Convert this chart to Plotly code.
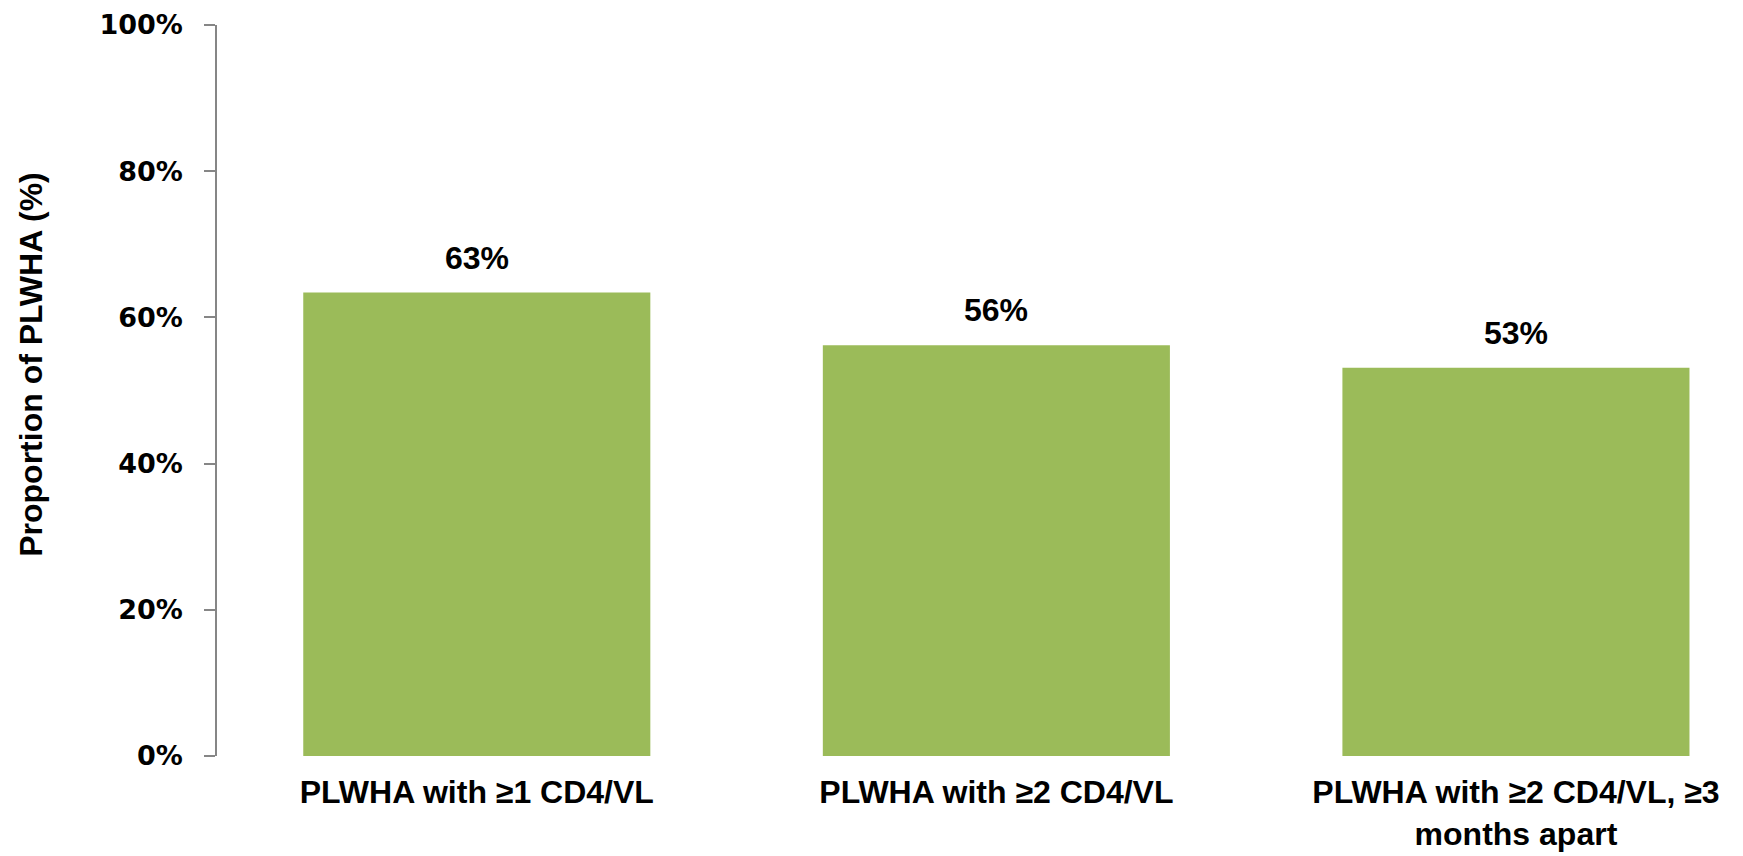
import plotly.graph_objects as go

categories = ["PLWHA with ≥1 CD4/VL", "PLWHA with ≥2 CD4/VL", "PLWHA with ≥2 CD4/VL, ≥3<br>months apart"]
values = [63.4, 56.2, 53.1]
value_labels = ["63%", "56%", "53%"]
y_ticks = [0, 20, 40, 60, 80, 100]
y_tick_labels = ["0%", "20%", "40%", "60%", "80%", "100%"]
y_title = "Proportion of PLWHA (%)"

GREEN = "#9BBB59"
AXIS_GRAY = "#868686"
TEXT_FONT = "Liberation Sans, Arial, sans-serif"
TICK_FONT = "DejaVu Sans, Verdana, sans-serif"

fig = go.Figure()
fig.add_trace(go.Bar(
    x=categories,
    y=values,
    marker=dict(color=GREEN, line=dict(width=0)),
    width=0.668,
    hoverinfo="skip",
))

for c, v, lab in zip(categories, values, value_labels):
    fig.add_annotation(
        x=c, y=v, text=f"<b>{lab}</b>", showarrow=False,
        yanchor="bottom", yshift=15,
        font=dict(family=TEXT_FONT, size=32, color="#000000"),
    )

# y-axis title (placed like the reference, slightly above plot centre)
fig.add_annotation(
    xref="paper", yref="paper", x=-0.1215, y=0.536,
    xanchor="center", yanchor="middle", textangle=-90,
    text=f"<b>{y_title}</b>", showarrow=False,
    font=dict(family=TEXT_FONT, size=32, color="#000000"),
)

fig.update_layout(
    width=1743, height=856,
    margin=dict(l=217, r=0, t=25, b=100, autoexpand=False),
    paper_bgcolor="white", plot_bgcolor="white",
    showlegend=False,
    xaxis=dict(
        type="category",
        range=[-0.5, 2.437],
        showline=False, showgrid=False, zeroline=False,
        ticks="", ticklabelstandoff=14,
        tickfont=dict(family=TEXT_FONT, size=32, color="#000000", weight="bold"),
    ),
    yaxis=dict(
        range=[0, 100],
        tickvals=y_ticks, ticktext=y_tick_labels,
        showline=True, linecolor=AXIS_GRAY, linewidth=1.5,
        ticks="outside", ticklen=11, tickcolor=AXIS_GRAY, tickwidth=1.5,
        ticklabelstandoff=16,
        showgrid=False, zeroline=False,
        tickfont=dict(family=TICK_FONT, size=27, color="#000000", weight="bold"),
        automargin=False,
    ),
)

fig.write_html(
    "out.html",
    config={"displayModeBar": False},
    post_script="document.body.style.margin='0';document.body.style.overflow='hidden';",
)
